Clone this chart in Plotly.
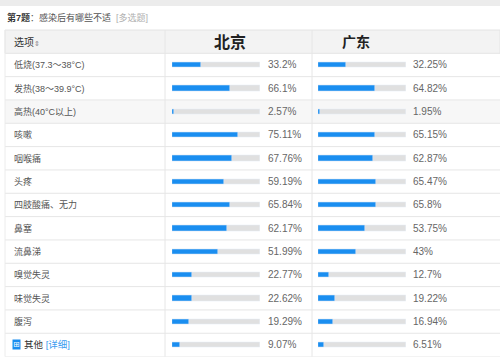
import plotly.graph_objects as go

W, H = 500, 364

categories = ["低烧(37.3～38°C)", "发热(38～39.9°C)", "高热(40°C以上)", "咳嗽", "咽喉痛", "头疼",
              "四肢酸痛、无力", "鼻塞", "流鼻涕", "嗅觉失灵", "味觉失灵", "腹泻", "其他"]
beijing = [33.2, 66.1, 2.57, 75.11, 67.76, 59.19, 65.84, 62.17, 51.99, 22.77, 22.62, 19.29, 9.07]
guangdong = [32.25, 64.82, 1.95, 65.15, 62.87, 65.47, 65.8, 53.75, 43, 12.7, 19.22, 16.94, 6.51]
columns = ["北京", "广东"]

BLUE = "#1a8ef0"
TRACK = "#e0e0e0"
FONT = "Liberation Sans, Noto Sans CJK SC, sans-serif"

def px(x):
    return x / W

def py(y):
    return 1 - y / H

header_bottom = 53.3
row_h = 23.33
n = len(categories)
table_bottom = header_bottom + n * row_h

fig = go.Figure()
for vals, xa in [(beijing, "x"), (guangdong, "x2")]:
    fig.add_trace(go.Bar(y=categories, x=[100] * n, orientation="h", marker_color=TRACK,
                         width=0.22, xaxis=xa, yaxis="y", hoverinfo="skip", showlegend=False))
    fig.add_trace(go.Bar(y=categories, x=vals, orientation="h", marker_color=BLUE,
                         width=0.22, xaxis=xa, yaxis="y", showlegend=False))

shapes = []
shapes.append(dict(type="rect", xref="paper", yref="paper", x0=0, x1=1, y0=py(6), y1=1,
                   fillcolor="#ececec", line_width=0, layer="below"))
shapes.append(dict(type="rect", xref="paper", yref="paper", x0=px(5), x1=1, y0=py(header_bottom), y1=py(30),
                   fillcolor="#f3f3f3", line=dict(color="#e4e4e4", width=1), layer="below"))
shapes.append(dict(type="rect", xref="paper", yref="y", x0=px(5), x1=1, y0=1.5, y1=2.5,
                   fillcolor="#f7f7f7", line_width=0, layer="below"))
for i in range(n):
    shapes.append(dict(type="line", xref="paper", yref="y", x0=px(5), x1=1, y0=i + 0.5, y1=i + 0.5,
                       line=dict(color="#e6e6e6", width=1), layer="below"))
for xv in [165, 312]:
    shapes.append(dict(type="line", xref="paper", yref="paper", x0=px(xv), x1=px(xv),
                       y0=py(table_bottom), y1=py(30), line=dict(color="#e6e6e6", width=1), layer="below"))
shapes.append(dict(type="line", xref="paper", yref="paper", x0=px(5), x1=px(5),
                   y0=py(table_bottom), y1=py(30), line=dict(color="#ececec", width=1), layer="below"))

ann = []
ann.append(dict(xref="paper", yref="paper", x=px(5), y=py(17), xanchor="left", yanchor="middle",
                showarrow=False, font=dict(family=FONT, size=9, color="#555"),
                text="<b style='color:#333'>第7题</b>：感染后有哪些不适  <span style='color:#b0b0b0'>[多选题]</span>"))
ann.append(dict(xref="paper", yref="paper", x=px(12), y=py(42), xanchor="left", yanchor="middle",
                showarrow=False, font=dict(family=FONT, size=10, color="#333"),
                text="选项<span style='font-size:7px;color:#888'>⇕</span>"))
ann.append(dict(xref="paper", yref="paper", x=px(230), y=py(42), xanchor="center", yanchor="middle",
                showarrow=False, font=dict(family=FONT, size=16, color="#222"), text="<b>" + columns[0] + "</b>"))
ann.append(dict(xref="paper", yref="paper", x=px(356), y=py(42), xanchor="center", yanchor="middle",
                showarrow=False, font=dict(family=FONT, size=14, color="#222"), text="<b>" + columns[1] + "</b>"))
for i, c in enumerate(categories):
    if c == "其他":
        ann.append(dict(xref="paper", yref="y", x=px(12), y=c, xanchor="left", yanchor="middle",
                        showarrow=False, font=dict(family="DejaVu Sans", size=8, color="white"),
                        text="⊞", bgcolor=BLUE, borderpad=0))
        ann.append(dict(xref="paper", yref="y", x=px(22), y=c, xanchor="left", yanchor="middle",
                        showarrow=False, font=dict(family=FONT, size=9.5, color="#333"),
                        text="其他 <span style='color:#3a9cf0'>[详细]</span>"))
    else:
        ann.append(dict(xref="paper", yref="y", x=px(12), y=c, xanchor="left", yanchor="middle",
                        showarrow=False, font=dict(family=FONT, size=9, color="#555"), text=c))
    ann.append(dict(xref="paper", yref="y", x=px(266), y=c, xanchor="left", yanchor="middle",
                    showarrow=False, font=dict(family=FONT, size=10, color="#666"), text=f"{beijing[i]:g}%"))
    ann.append(dict(xref="paper", yref="y", x=px(411), y=c, xanchor="left", yanchor="middle",
                    showarrow=False, font=dict(family=FONT, size=10, color="#666"), text=f"{guangdong[i]:g}%"))

fig.update_layout(
    width=W, height=H, margin=dict(l=0, r=0, t=0, b=0),
    paper_bgcolor="white", plot_bgcolor="rgba(0,0,0,0)",
    barmode="overlay", bargap=0,
    xaxis=dict(domain=[px(172), px(260)], range=[0, 100], visible=False, fixedrange=True),
    xaxis2=dict(domain=[px(318), px(406)], range=[0, 100], visible=False, fixedrange=True),
    yaxis=dict(domain=[py(table_bottom), py(header_bottom)], type="category",
               categoryarray=categories, range=[n - 0.5, -0.5], visible=False, fixedrange=True),
    shapes=shapes, annotations=ann,
)

fig.write_html("out.html")
